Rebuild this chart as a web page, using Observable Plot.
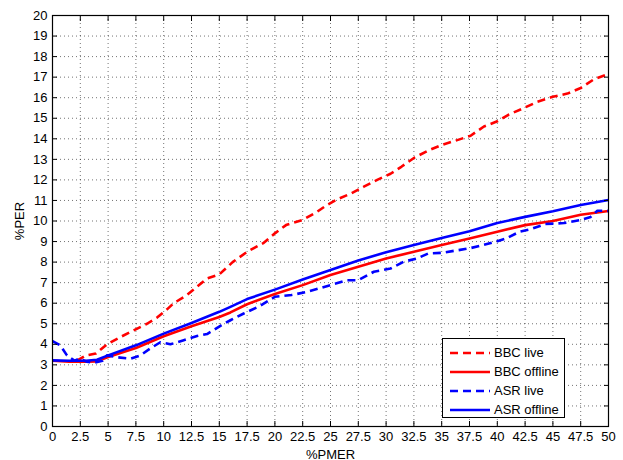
<!DOCTYPE html>
<html>
<head>
<meta charset="utf-8">
<script src="https://cdn.jsdelivr.net/npm/d3@7"></script>
<script src="https://cdn.jsdelivr.net/npm/@observablehq/plot@0.6"></script>
<style>
  html, body { margin: 0; padding: 0; background: #fff; }
  #wrap { position: relative; width: 623px; height: 460px; font-family: "Liberation Sans", Arial, sans-serif; }
  #legend { position: absolute; left: 442px; top: 338px; width: 123px; height: 80px; border: 1px solid #000; background: #fff; box-sizing: border-box; }
  .row { position: absolute; left: 0; height: 19px; display: flex; align-items: center; font-size: 13px; color: #000; }
  .row svg { margin-left: 7px; margin-right: 4px; }
</style>
</head>
<body>
<div id="wrap"></div>
<script>
// ---- data ----
const xTicks = [0, 2.5, 5, 7.5, 10, 12.5, 15, 17.5, 20, 22.5, 25, 27.5, 30, 32.5, 35, 37.5, 40, 42.5, 45, 47.5, 50];
const xTickLabels = ["0", "2.5", "5", "7.5", "10", "12.5", "15", "17.5", "20", "22.5", "25", "27.5", "30", "32.5", "35", "37.5", "40", "42.5", "45", "47.5", "50"];
const yTicks = [0, 1, 2, 3, 4, 5, 6, 7, 8, 9, 10, 11, 12, 13, 14, 15, 16, 17, 18, 19, 20];
const yTickLabels = ["0", "1", "2", "3", "4", "5", "6", "7", "8", "9", "10", "11", "12", "13", "14", "15", "16", "17", "18", "19", "20"];

const seriesNames = ["BBC live", "BBC offline", "ASR live", "ASR offline"];

const bbcLiveX = [2.2, 3.0, 3.9, 4.9, 6.1, 7.3, 8.5, 9.4, 10.3, 10.9, 12.1, 13.0, 13.9, 15.0, 16.2, 17.5, 19.0, 20.0, 21.0, 22.5, 23.8, 24.6, 25.6, 26.9, 28.0, 29.2, 30.4, 31.4, 32.6, 33.8, 35.0, 36.2, 37.6, 38.8, 40.0, 41.0, 42.4, 43.6, 44.9, 46.3, 47.5, 48.7, 50.0];
const bbcLiveY = [3.2, 3.45, 3.55, 4.0, 4.35, 4.68, 5.0, 5.3, 5.7, 6.0, 6.4, 6.8, 7.2, 7.4, 8.0, 8.5, 8.94, 9.4, 9.8, 10.05, 10.45, 10.75, 11.05, 11.35, 11.67, 12.0, 12.3, 12.65, 13.1, 13.43, 13.7, 13.9, 14.15, 14.6, 14.85, 15.17, 15.5, 15.8, 16.03, 16.2, 16.47, 16.9, 17.15];

const bbcOffX = [0, 1.5, 3, 4, 5, 7.5, 10, 12.5, 15, 16, 17.5, 20, 22.5, 25, 27.5, 30, 32.5, 35, 37.5, 40, 42.5, 45, 47.5, 50];
const bbcOffY = [3.2, 3.15, 3.15, 3.17, 3.38, 3.82, 4.39, 4.88, 5.33, 5.55, 5.95, 6.45, 6.88, 7.37, 7.77, 8.18, 8.5, 8.83, 9.15, 9.48, 9.8, 10.0, 10.3, 10.49];

const asrLiveX = [0, 0.7, 1.3, 2.0, 2.4, 3.1, 3.7, 4.5, 4.9, 5.8, 7.0, 7.9, 8.8, 9.7, 10.6, 11.8, 13.0, 13.9, 15.1, 16.0, 17.2, 18.6, 20.0, 21.5, 22.9, 25.0, 26.5, 27.5, 28.9, 30.4, 31.6, 32.8, 33.8, 35.0, 37.5, 38.5, 40.0, 40.8, 42.0, 43.0, 44.3, 46.0, 47.5, 48.4, 49.0, 50.0];
const asrLiveY = [4.16, 3.95, 3.46, 3.2, 3.3, 3.15, 3.1, 3.2, 3.46, 3.37, 3.3, 3.46, 3.8, 4.1, 4.0, 4.2, 4.4, 4.5, 4.9, 5.17, 5.5, 5.85, 6.31, 6.4, 6.55, 6.88, 7.12, 7.12, 7.53, 7.69, 8.02, 8.18, 8.42, 8.45, 8.67, 8.8, 9.02, 9.15, 9.48, 9.6, 9.85, 9.9, 10.05, 10.2, 10.5, 10.49];

const asrOffX = [0, 1.5, 3, 4, 5, 7.5, 10, 12.5, 15, 16, 17.5, 20, 22.5, 25, 27.5, 30, 32.5, 35, 37.5, 40, 42.5, 45, 47.5, 50];
const asrOffY = [3.22, 3.2, 3.2, 3.25, 3.46, 3.95, 4.52, 5.04, 5.58, 5.82, 6.2, 6.66, 7.15, 7.62, 8.08, 8.48, 8.83, 9.17, 9.5, 9.9, 10.2, 10.47, 10.78, 11.02];

// ---- build ----
const toRows = (xs, ys) => xs.map((x, i) => ({x, y: ys[i]}));
const styles = [
  {name: seriesNames[0], color: "#ff0000", dash: "8,5", rows: toRows(bbcLiveX, bbcLiveY)},
  {name: seriesNames[1], color: "#ff0000", dash: null, rows: toRows(bbcOffX, bbcOffY)},
  {name: seriesNames[2], color: "#0000ff", dash: "8,5", rows: toRows(asrLiveX, asrLiveY)},
  {name: seriesNames[3], color: "#0000ff", dash: null, rows: toRows(asrOffX, asrOffY)}
];

const blank = () => "";
const xFmt = d => xTickLabels[xTicks.indexOf(d)];
const yFmt = d => yTickLabels[yTicks.indexOf(d)];
const chart = Plot.plot({
  width: 623,
  height: 460,
  marginLeft: 52,
  marginRight: 15,
  marginTop: 15,
  marginBottom: 34,
  style: {fontFamily: "'Liberation Sans', Arial, sans-serif", fontSize: "13px", background: "#fff", color: "#000"},
  x: {domain: [0, 50]},
  y: {domain: [0, 20]},
  marks: [
    Plot.gridX(xTicks, {stroke: "#000", strokeOpacity: 0.55, strokeDasharray: "1,3"}),
    Plot.gridY(yTicks, {stroke: "#000", strokeOpacity: 0.55, strokeDasharray: "1,3"}),
    ...styles.map(s => Plot.line(s.rows, {x: "x", y: "y", stroke: s.color, strokeWidth: 2.6, strokeDasharray: s.dash, strokeLinejoin: "round", strokeLinecap: "butt"})),
    Plot.axisX(xTicks, {anchor: "bottom", tickSize: 0, tickPadding: 5, fontSize: 13, tickFormat: xFmt, label: "%PMER", labelAnchor: "center", labelArrow: "none", labelOffset: 32}),
    Plot.axisX(xTicks, {anchor: "bottom", tickSize: -5, tickFormat: blank, label: null}),
    Plot.axisX(xTicks, {anchor: "top", tickSize: -5, tickFormat: blank, label: null}),
    Plot.axisY(yTicks, {anchor: "left", tickSize: 0, tickPadding: 5, fontSize: 13, tickFormat: yFmt, label: "%PER", labelAnchor: "center", labelArrow: "none", labelOffset: 38}),
    Plot.axisY(yTicks, {anchor: "left", tickSize: -5, tickFormat: blank, label: null}),
    Plot.axisY(yTicks, {anchor: "right", tickSize: -5, tickFormat: blank, label: null}),
    Plot.frame({stroke: "#000", strokeWidth: 1.2})
  ]
});

const wrap = document.getElementById("wrap");
wrap.appendChild(chart);

// legend
const legend = document.createElement("div");
legend.id = "legend";
styles.forEach((s, i) => {
  const row = document.createElement("div");
  row.className = "row";
  row.style.top = (4 + i * 19) + "px";
  const sv = d3.create("svg").attr("width", 40).attr("height", 6);
  sv.append("line").attr("x1", 0).attr("x2", 40).attr("y1", 3).attr("y2", 3)
    .attr("stroke", s.color).attr("stroke-width", 2.6)
    .attr("stroke-dasharray", s.dash ? "8,5" : null);
  row.appendChild(sv.node());
  const t = document.createElement("span");
  t.textContent = s.name;
  row.appendChild(t);
  legend.appendChild(row);
});
wrap.appendChild(legend);
</script>
</body>
</html>
